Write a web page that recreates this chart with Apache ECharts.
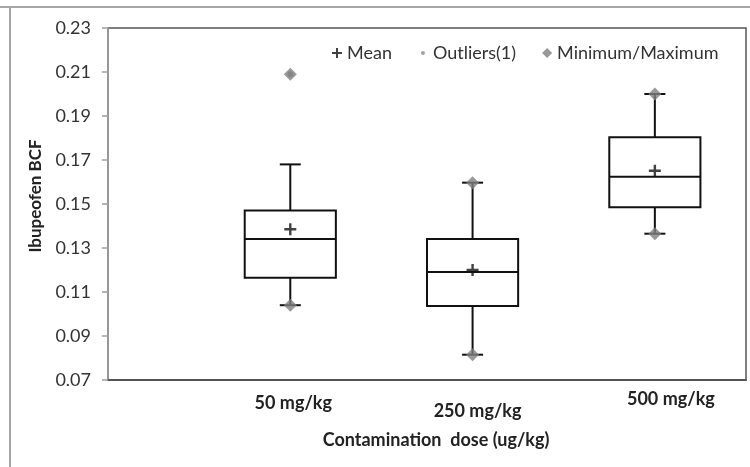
<!DOCTYPE html>
<html>
<head>
<meta charset="utf-8">
<script src="https://cdn.jsdelivr.net/npm/echarts@6/dist/echarts.min.js"></script>
<style>
  html, body { margin: 0; padding: 0; background: #fff; }
  #chart { width: 750px; height: 467px; }
</style>
</head>
<body>
<div id="chart"></div>
<script>
  // dose groups, placed at x = 1, 2, 3
  var categories = ['50 mg/kg', '250 mg/kg', '500 mg/kg'];
  var positions = [1, 2, 3];
  // box statistics
  var whiskerLow = [0.104, 0.0815, 0.1365];
  var q1 = [0.1165, 0.1036, 0.1485];
  var median = [0.1341, 0.1191, 0.1624];
  var q3 = [0.147, 0.1341, 0.1803];
  var whiskerHigh = [0.168, 0.1597, 0.200];
  var means = [0.1385, 0.1200, 0.1651];
  var minimum = [0.104, 0.0815, 0.1365];
  var maximum = [0.209, 0.1597, 0.200];
  // outlier: group index, value
  var outliers = [[0, 0.209]];
  var yTicks = [0.07, 0.09, 0.11, 0.13, 0.15, 0.17, 0.19, 0.21, 0.23];

  var font = 'Lato, "Open Sans", sans-serif';
  var plusIcon = 'path://M4,0h2v10h-2z M0,4h10v2h-10z';
  var dotIcon = 'path://M0,0M10,10M3,5a2,2 0 1,0 4,0a2,2 0 1,0 -4,0z';

  var boxData = [];
  var meanData = [];
  var minMaxData = [];
  for (var i = 0; i < categories.length; i++) {
    boxData.push([positions[i], whiskerLow[i], q1[i], median[i], q3[i], whiskerHigh[i]]);
    meanData.push([positions[i], means[i]]);
    minMaxData.push([positions[i], minimum[i]]);
    minMaxData.push([positions[i], maximum[i]]);
  }
  var outlierData = outliers.map(function (o) { return [positions[o[0]], o[1]]; });

  // label offsets so the group names sit like in the picture (staggered)
  var labelRich = {
    a: { fontFamily: font, fontWeight: 'bold', fontSize: 18, color: '#222', padding: [4, 0, 0, 6] },
    b: { fontFamily: font, fontWeight: 'bold', fontSize: 18, color: '#222', padding: [12, 0, 0, 10] },
    c: { fontFamily: font, fontWeight: 'bold', fontSize: 18, color: '#222', padding: [0, 0, 0, 32] }
  };
  var richKeys = ['a', 'b', 'c'];

  function renderBox(params, api) {
    var x = api.value(0);
    var pLow = api.coord([x, api.value(1)]);
    var pQ1 = api.coord([x, api.value(2)]);
    var pMed = api.coord([x, api.value(3)]);
    var pQ3 = api.coord([x, api.value(4)]);
    var pHigh = api.coord([x, api.value(5)]);
    var halfW = api.size([0.5, 0])[0] / 2;
    var capW = 10.5;
    var cx = pMed[0];
    var st = { stroke: '#111', lineWidth: 2, fill: null };
    return {
      type: 'group',
      children: [
        { type: 'line', shape: { x1: cx, y1: pHigh[1], x2: cx, y2: pQ3[1] }, style: st },
        { type: 'line', shape: { x1: cx, y1: pQ1[1], x2: cx, y2: pLow[1] }, style: st },
        { type: 'line', shape: { x1: cx - capW, y1: pHigh[1], x2: cx + capW, y2: pHigh[1] }, style: st },
        { type: 'line', shape: { x1: cx - capW, y1: pLow[1], x2: cx + capW, y2: pLow[1] }, style: st },
        { type: 'rect', shape: { x: cx - halfW, y: pQ3[1], width: halfW * 2, height: pQ1[1] - pQ3[1] }, style: { stroke: '#111', lineWidth: 2, fill: '#fff' } },
        { type: 'line', shape: { x1: cx - halfW, y1: pMed[1], x2: cx + halfW, y2: pMed[1] }, style: st }
      ]
    };
  }

  var chart = echarts.init(document.getElementById('chart'));
  chart.setOption({
    animation: false,
    backgroundColor: '#fff',
    textStyle: { fontFamily: font },
    graphic: [
      { type: 'line', shape: { x1: 0, y1: 7, x2: 750, y2: 7 }, style: { stroke: '#a6a6a6', lineWidth: 2 } },
      { type: 'line', shape: { x1: 10, y1: 7, x2: 10, y2: 467 }, style: { stroke: '#a6a6a6', lineWidth: 2 } }
    ],
    grid: {
      left: 108, right: 4, top: 28, bottom: 87,
      show: true, borderColor: '#555', borderWidth: 1.5
    },
    legend: {
      left: 327, top: 39,
      itemWidth: 10, itemHeight: 10, itemGap: 26,
      textStyle: { fontFamily: font, fontSize: 18, color: '#333' },
      data: [
        { name: 'Mean', icon: plusIcon, itemStyle: { color: '#111' } },
        { name: 'Outliers(1)', icon: dotIcon, itemStyle: { color: '#8a8a8a' } },
        { name: 'Minimum/Maximum', icon: 'diamond', itemStyle: { color: '#808080' } }
      ]
    },
    xAxis: {
      type: 'value',
      min: 0, max: 3.5, interval: 1,
      name: 'Contamination  dose (ug/kg)',
      nameLocation: 'middle',
      nameGap: 51,
      nameTextStyle: { fontFamily: font, fontWeight: 'bold', fontSize: 18, color: '#222', padding: [0, 0, 0, 18] },
      axisLine: { show: true, lineStyle: { color: '#555', width: 2 } },
      axisTick: { show: false },
      splitLine: { show: false },
      axisLabel: {
        margin: 10,
        showMinLabel: false, showMaxLabel: false,
        formatter: function (v) {
          var idx = positions.indexOf(Math.round(v));
          if (idx < 0 || Math.abs(v - positions[idx]) > 1e-6) return '';
          return '{' + richKeys[idx] + '|' + categories[idx] + '}';
        },
        rich: labelRich
      }
    },
    yAxis: {
      type: 'value',
      min: yTicks[0], max: yTicks[yTicks.length - 1], interval: 0.02,
      name: 'Ibupeofen BCF',
      nameLocation: 'middle',
      nameGap: 64,
      nameTextStyle: { fontFamily: font, fontWeight: 'bold', fontSize: 17, color: '#222', padding: [0, 0, 0, 16] },
      axisLine: { show: true, lineStyle: { color: '#a0a0a0', width: 1.5 } },
      axisTick: { show: true, inside: false, length: 6, lineStyle: { color: '#a0a0a0', width: 1.5 } },
      splitLine: { show: false },
      axisLabel: {
        margin: 17,
        fontFamily: font, fontSize: 18, color: '#333',
        formatter: function (v) { return v.toFixed(2); }
      }
    },
    series: [
      {
        name: 'Boxes',
        type: 'custom',
        renderItem: renderBox,
        data: boxData,
        encode: { x: 0, y: [1, 2, 3, 4, 5] },
        z: 2
      },
      {
        name: 'Outliers(1)',
        type: 'scatter',
        symbol: 'circle',
        symbolSize: 6,
        itemStyle: { color: '#8a8a8a' },
        data: outlierData,
        z: 3
      },
      {
        name: 'Minimum/Maximum',
        type: 'scatter',
        symbol: 'diamond',
        symbolSize: 13,
        itemStyle: { color: '#808080' },
        data: minMaxData,
        z: 4
      },
      {
        name: 'Mean',
        type: 'scatter',
        symbol: plusIcon,
        symbolSize: 12,
        itemStyle: { color: '#111' },
        data: meanData,
        z: 5
      }
    ]
  });
</script>
</body>
</html>
